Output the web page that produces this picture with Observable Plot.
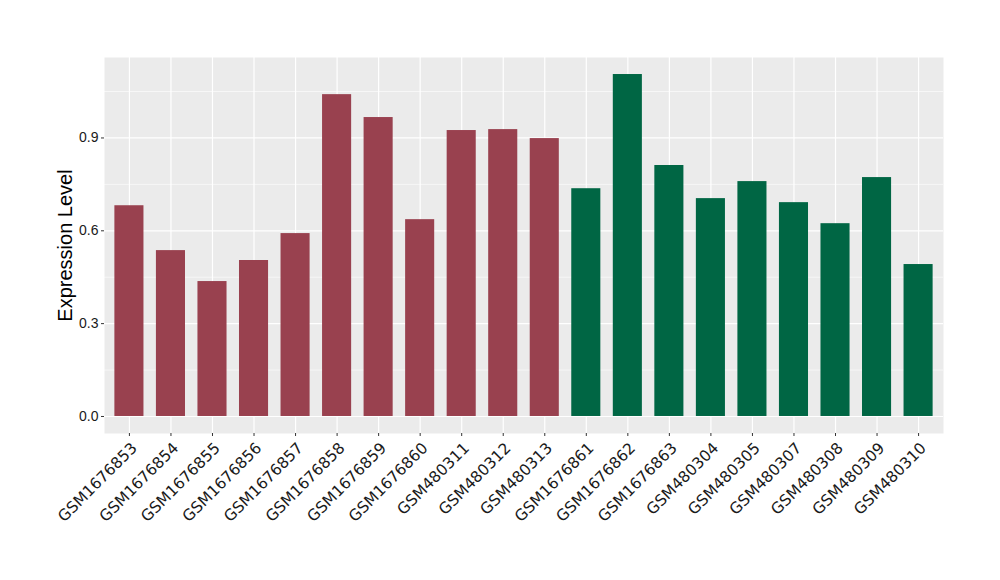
<!DOCTYPE html>
<html>
<head>
<meta charset="utf-8">
<script src="https://cdn.jsdelivr.net/npm/d3@7"></script>
<script src="https://cdn.jsdelivr.net/npm/@observablehq/plot@0.6"></script>
<style>
  html, body { margin: 0; padding: 0; background: #fff; }
</style>
</head>
<body>
<div id="chart"></div>
<script>
const samples = ["GSM1676853","GSM1676854","GSM1676855","GSM1676856","GSM1676857","GSM1676858","GSM1676859","GSM1676860","GSM480311","GSM480312","GSM480313","GSM1676861","GSM1676862","GSM1676863","GSM480304","GSM480305","GSM480307","GSM480308","GSM480309","GSM480310"];
const values = [0.681,0.536,0.436,0.504,0.591,1.040,0.966,0.636,0.924,0.927,0.898,0.736,1.105,0.811,0.704,0.759,0.691,0.623,0.772,0.491];
const groups = ["A","A","A","A","A","A","A","A","A","A","A","B","B","B","B","B","B","B","B","B"];
const groupColors = ["#99414F", "#006644"];
const yTicks = [0, 0.3, 0.6, 0.9];
const yMinor = [0.15, 0.45, 0.75, 1.05];

const data = samples.map((s, i) => ({sample: s, value: values[i], group: groups[i]}));

const chart = Plot.plot({
  width: 1000,
  height: 580,
  marginLeft: 104,
  marginRight: 57,
  marginTop: 57,
  marginBottom: 147,
  style: {fontFamily: "'Liberation Sans', Arial, sans-serif", background: "#fff"},
  x: {domain: samples, paddingInner: 0.3, paddingOuter: 0.25, round: false, axis: null},
  y: {domain: [-0.055, 1.16], axis: null},
  color: {domain: ["A", "B"], range: groupColors},
  marks: [
    Plot.frame({fill: "#EBEBEB", stroke: null}),
    Plot.gridY(yMinor, {stroke: "#fff", strokeWidth: 0.6, strokeOpacity: 1}),
    Plot.gridY(yTicks, {stroke: "#fff", strokeWidth: 1.2, strokeOpacity: 1}),
    Plot.gridX({stroke: "#fff", strokeWidth: 1.2, strokeOpacity: 1}),
    Plot.barY(data, {x: "sample", y: "value", fill: "group"}),
    Plot.axisY(yTicks, {tickFormat: d3.format(".1f"), tickSize: 3, tickPadding: 3, fontSize: 14, color: "#1a1a1a", stroke: "#333", label: null}),
    Plot.axisX({tickSize: 3, stroke: "#333", text: null, label: null}),
    Plot.axisX({tickSize: 0, tickRotate: -45, tickPadding: 3, dx: 5, dy: 9, fontSize: 15.5, fontFamily: "'DejaVu Sans', sans-serif", color: "#1a1a1a", label: null}),
    Plot.text(["Expression Level"], {frameAnchor: "left", textAnchor: "middle", rotate: -90, dx: -39, fontSize: 20, fill: "#000"})
  ]
});
document.getElementById("chart").appendChild(chart);
</script>
</body>
</html>
